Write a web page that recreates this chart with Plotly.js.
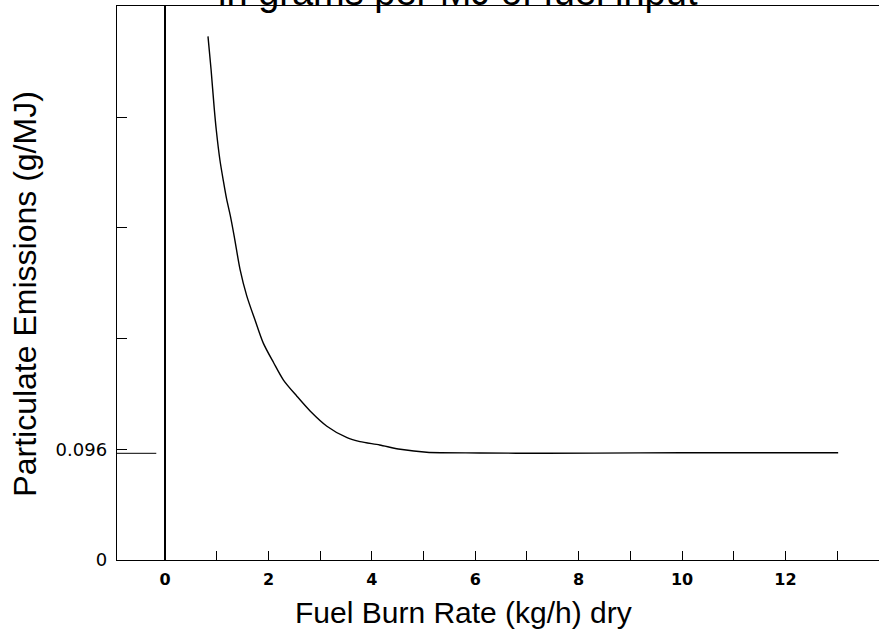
<!DOCTYPE html>
<html>
<head>
<meta charset="utf-8">
<script src="https://cdn.plot.ly/plotly-3.0.1.min.js"></script>
<style>html,body{margin:0;padding:0;background:#fff;}#chart{width:879px;height:637px;}</style>
</head>
<body>
<div id="chart"></div>
<script>
// Fuel burn rate (kg/h, dry) and particulate emissions (g/MJ)
const burnRate = [0.83, 0.89, 0.95, 0.99, 1.06, 1.13, 1.19, 1.26, 1.34, 1.45, 1.58, 1.74, 1.90, 2.10, 2.29, 2.55, 2.81, 3.13, 3.52, 3.77, 4.15, 4.55, 5.06, 6.09, 7.38, 9.19, 10.73, 13.02];
const emissions = [0.454, 0.425, 0.392, 0.373, 0.347, 0.328, 0.313, 0.299, 0.280, 0.252, 0.229, 0.208, 0.188, 0.171, 0.156, 0.142, 0.129, 0.116, 0.106, 0.1026, 0.0997, 0.096, 0.0934, 0.0928, 0.0925, 0.0929, 0.093, 0.093];
// short reference mark at the 0.096 level, left of the zero line
const refX = [-0.93, -0.17];
const refY = [0.0925, 0.0925];
const xTickVals = [0, 1, 2, 3, 4, 5, 6, 7, 8, 9, 10, 11, 12, 13];
const xTickText = ["0", "", "2", "", "4", "", "6", "", "8", "", "10", "", "12", ""];
const yTickVals = [0, 0.096, 0.192, 0.288, 0.384];
const yTickText = ["0", "0.096", "", "", ""];
const titleText = "in grams per MJ of fuel input";
const xTitle = "Fuel Burn Rate (kg/h) dry";
const yTitle = "Particulate Emissions (g/MJ)";

const traces = [
  {x: burnRate, y: emissions, mode: "lines", line: {color: "#000", width: 1.4, shape: "spline", smoothing: 0.8}, hoverinfo: "skip"},
  {x: refX, y: refY, mode: "lines", line: {color: "#000", width: 1}, hoverinfo: "skip"}
];

const font = "Liberation Sans, Arial, sans-serif";
const tickFont = "DejaVu Sans, sans-serif";
const layout = {
  width: 879, height: 637,
  margin: {l: 117, r: 0, t: 6, b: 77, pad: 0},
  paper_bgcolor: "#fff", plot_bgcolor: "#fff",
  showlegend: false,
  font: {family: font, color: "#000"},
  xaxis: {
    range: [-0.93, 13.81],
    tickvals: xTickVals, ticktext: xTickText,
    ticks: "inside", ticklen: 9, tickwidth: 1, tickcolor: "#000",
    showline: true, linecolor: "#000", linewidth: 1.3, mirror: true,
    showgrid: false,
    zeroline: true, zerolinecolor: "#000", zerolinewidth: 1.3,
    tickfont: {family: tickFont, size: 16, color: "#000", weight: "bold"},
    ticklabelstandoff: 4
  },
  yaxis: {
    range: [0, 0.4803],
    tickvals: yTickVals, ticktext: yTickText,
    ticks: "inside", ticklen: 10, tickwidth: 1, tickcolor: "#000",
    showline: true, linecolor: "#000", linewidth: 1.3, mirror: false,
    showgrid: false, zeroline: false,
    tickfont: {family: tickFont, size: 18, color: "#000"},
    ticklabelstandoff: 5
  },
  annotations: [
    {text: titleText, xref: "paper", yref: "paper", x: 0.447, y: 1,
     xanchor: "center", yanchor: "bottom", yshift: -9, showarrow: false,
     font: {family: font, size: 38, color: "#000"}},
    {text: xTitle, xref: "paper", yref: "paper", x: 0.455, y: -0.094,
     xanchor: "center", yanchor: "middle", showarrow: false,
     font: {family: font, size: 30, color: "#000"}},
    {text: yTitle, xref: "paper", yref: "paper", x: -0.12, y: 0.48,
     xanchor: "center", yanchor: "middle", textangle: -90, showarrow: false,
     font: {family: font, size: 32, color: "#000"}}
  ]
};

Plotly.newPlot("chart", traces, layout, {staticPlot: true, displayModeBar: false});
</script>
</body>
</html>
